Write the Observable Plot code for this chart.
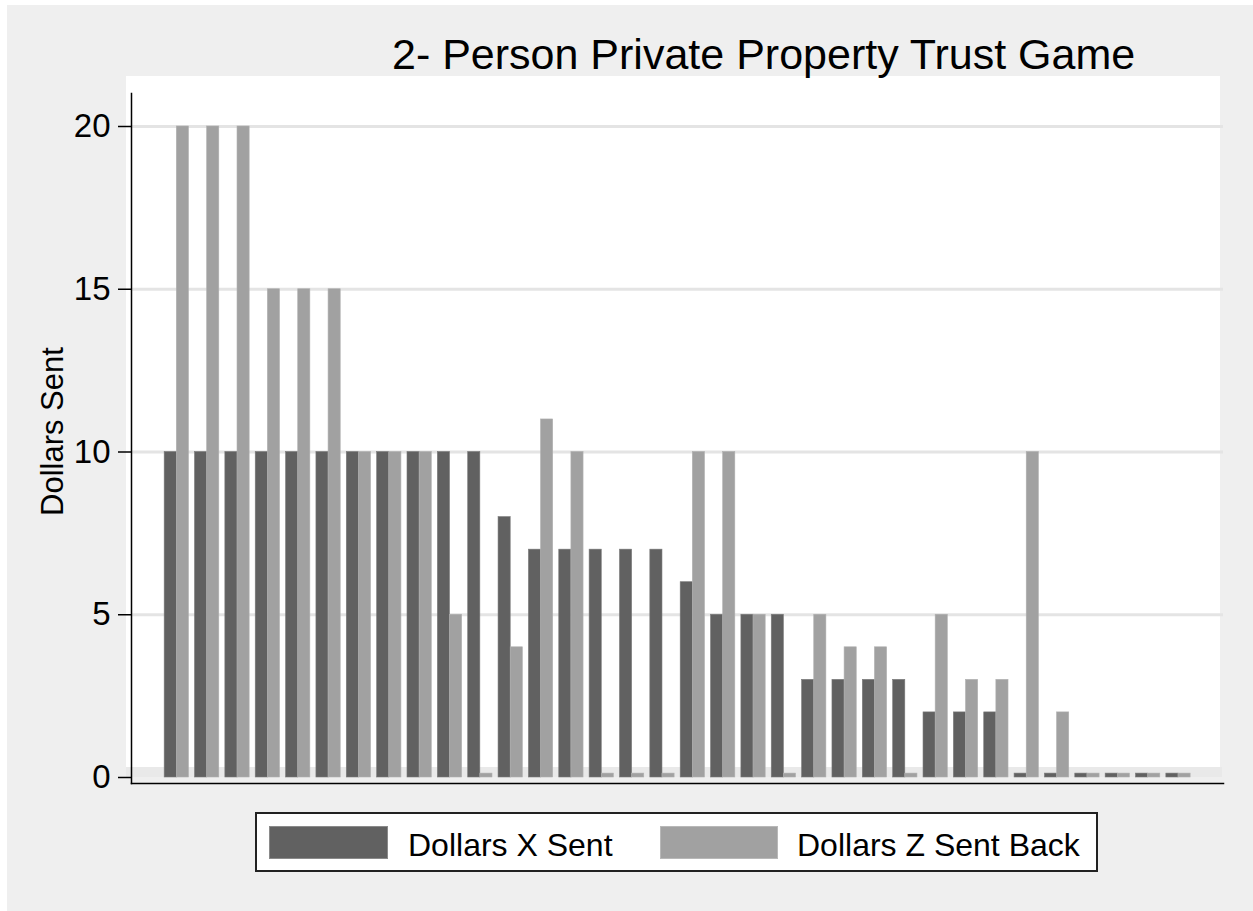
<!DOCTYPE html>
<html>
<head>
<meta charset="utf-8">
<script src="https://cdn.jsdelivr.net/npm/d3@7"></script>
<script src="https://cdn.jsdelivr.net/npm/@observablehq/plot@0.6"></script>
<style>
  html, body { margin: 0; padding: 0; background: #ffffff; }
  body { width: 1253px; height: 911px; position: relative; overflow: hidden;
         font-family: "Liberation Sans", Arial, sans-serif; }
  .abs { position: absolute; }
  #outer { left: 7px; top: 5px; width: 1246px; height: 906px; background: #efefef; }
  #plotbg { left: 126px; top: 76px; width: 1094px; height: 691px; background: #ffffff; }
  #band { left: 126px; top: 767px; width: 1096px; height: 10px; background: #e9e9e9; }
  #chart { left: 0; top: 0; }
  #title { left: 392px; top: 33px; font-size: 43px; line-height: 42px; white-space: nowrap; color: #000; }
  #ylabel { left: 37px; top: 516px; font-size: 31px; line-height: 31px; white-space: nowrap;
            transform-origin: left top; transform: rotate(-90deg); color: #000; }
  #legend { left: 255px; top: 812px; width: 843px; height: 60px; box-sizing: border-box;
            border: 2px solid #222; background: #ffffff; }
  .sw { height: 33px; top: 826px; box-sizing: border-box; }
  .lt { font-size: 32px; line-height: 32px; top: 829px; white-space: nowrap; color: #000; }
  #chart svg text { font-family: "Liberation Sans", Arial, sans-serif; }
</style>
</head>
<body>
<div id="outer" class="abs"></div>
<div id="plotbg" class="abs"></div>
<div id="band" class="abs"></div>
<div id="chart" class="abs"></div>
<div id="title" class="abs"></div>
<div id="ylabel" class="abs"></div>
<div id="legend" class="abs"></div>
<div id="sw1" class="abs sw"></div>
<div id="lt1" class="abs lt"></div>
<div id="sw2" class="abs sw"></div>
<div id="lt2" class="abs lt"></div>
<script>
// ---- data ----
const titleText = "2- Person Private Property Trust Game";
const yLabel = "Dollars Sent";
const seriesNames = ["Dollars X Sent", "Dollars Z Sent Back"];
const seriesColors = ["#616161", "#a1a1a1"];
const pairs = [1,2,3,4,5,6,7,8,9,10,11,12,13,14,15,16,17,18,19,20,21,22,23,24,25,26,27,28,29,30,31,32,33,34];
const xSent = [10,10,10,10,10,10,10,10,10,10,10,8,7,7,7,7,7,6,5,5,5,3,3,3,3,2,2,2,0,0,0,0,0,0];
const zBack = [20,20,20,15,15,15,10,10,10,5,0,4,11,10,0,0,0,10,10,5,0,5,4,4,0,5,3,3,10,2,0,0,0,0];
const yTicks = [0,5,10,15,20];

// zero values are drawn as a thin stub, as in the original
const stub = 0.12;
const rows = pairs.map((p, i) => ({pair: p, x: xSent[i], z: zBack[i]}));

const chart = Plot.plot({
  width: 1253,
  height: 911,
  marginLeft: 131,
  marginRight: 30,
  marginTop: 93,
  marginBottom: 128,
  style: {background: "transparent", overflow: "visible", fontFamily: "'Liberation Sans', Arial, sans-serif", fontSize: "33px", color: "#000"},
  x: {type: "linear", domain: [1, 34], range: [176.3, 1178], axis: null},
  y: {domain: [0, 20], range: [777, 126], axis: null},
  marks: [
    Plot.gridY(yTicks.filter(t => t > 0), {stroke: "#e4e4e4", strokeOpacity: 1, strokeWidth: 3}),
    Plot.rectY(rows, {x1: d => d.pair - 0.4, x2: d => d.pair, y: d => Math.max(d.x, stub), fill: seriesColors[0], stroke: "#7a7a7a", strokeWidth: 0.6}),
    Plot.rectY(rows, {x1: d => d.pair, x2: d => d.pair + 0.4, y: d => Math.max(d.z, stub), fill: seriesColors[1], stroke: "#b0b0b0", strokeWidth: 0.6}),
    Plot.axisY({ticks: yTicks, tickSize: 13, tickPadding: 8, fontSize: 33, label: null, stroke: "#000", strokeWidth: 1.5, tickFormat: d => String(d)}),
    Plot.frame({anchor: "left", stroke: "#000", strokeWidth: 1.5}),
    Plot.frame({anchor: "bottom", stroke: "#000", strokeWidth: 1.5})
  ]
});
document.getElementById("chart").appendChild(chart);

document.getElementById("title").textContent = titleText;
document.getElementById("ylabel").textContent = yLabel;

const sw1 = document.getElementById("sw1");
sw1.style.left = "269px"; sw1.style.width = "119px"; sw1.style.background = seriesColors[0];
sw1.style.border = "1px solid #8a8a8a";
const sw2 = document.getElementById("sw2");
sw2.style.left = "660px"; sw2.style.width = "118px"; sw2.style.background = seriesColors[1];
sw2.style.border = "1px solid #b8b8b8";
const lt1 = document.getElementById("lt1");
lt1.style.left = "408px"; lt1.textContent = seriesNames[0];
const lt2 = document.getElementById("lt2");
lt2.style.left = "797px"; lt2.textContent = seriesNames[1];
</script>
</body>
</html>
